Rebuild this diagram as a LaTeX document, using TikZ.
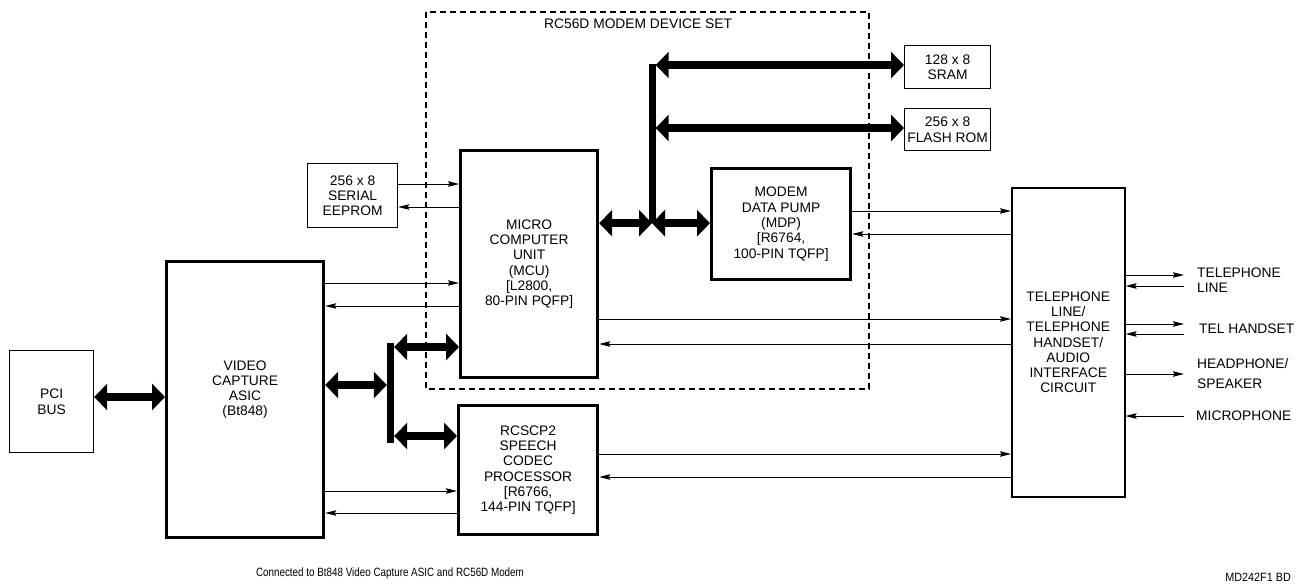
\documentclass[tikz,border=0pt]{standalone}
\usepackage{fontspec}
\setmainfont{Liberation Sans}
\usetikzlibrary{arrows.meta,positioning}

\newcommand{\blockfont}{\fontsize{13.8}{15.3}\selectfont}
\newcommand{\notefont}{\fontsize{12}{14}\selectfont}

\tikzset{
  thickbox/.style={draw, line width=3.2pt, align=center, inner sep=0pt, font=\blockfont},
  thinbox/.style={draw, line width=1.2pt, align=center, inner sep=0pt, font=\blockfont},
  busbar/.style={fill=black, inner sep=0pt, minimum width=7pt},
  bigarrow/.style={line width=8pt, {Triangle[length=13pt,width=26pt]}-{Triangle[length=13pt,width=26pt]}},
  sig/.style={line width=1pt, -{Stealth[length=11pt,width=5.5pt,inset=1.5pt]}},
  lbl/.style={font=\blockfont, align=left, anchor=west, inner sep=0pt},
}

\begin{document}
\begin{tikzpicture}[x=1pt, y=-1pt]
  \useasboundingbox (0,0) rectangle (1307,587);

  % Modem device set outline
  \draw[line width=1.2pt, dash pattern=on 6pt off 4pt] (426,12) rectangle (869,389);
  \node[font=\blockfont, anchor=west, inner sep=0pt] (settitle) at (544,24)
    {RC56D MODEM DEVICE SET};

  % Blocks
  \node[thinbox, anchor=north west, minimum width=84pt, minimum height=102pt]
    (pci) at (9,350) {PCI\\BUS};
  \node[thickbox, anchor=north west, minimum width=157pt, minimum height=276pt,
    label={[font=\blockfont, align=center, yshift=10pt]center:VIDEO\\CAPTURE\\ASIC\\(Bt848)}]
    (video) at (165,260) {};
  \node[thinbox, anchor=north west, minimum width=90pt, minimum height=64pt]
    (eeprom) at (307,163) {256 x 8\\SERIAL\\EEPROM};
  \node[thickbox, anchor=north west, minimum width=137pt, minimum height=227pt]
    (mcu) at (459,149) {MICRO\\COMPUTER\\UNIT\\(MCU)\\{[L2800,}\\80-PIN PQFP]};
  \node[thickbox, anchor=north west, minimum width=139pt, minimum height=129pt]
    (rcscp) at (457,404) {RCSCP2\\SPEECH\\CODEC\\PROCESSOR\\{[R6766,}\\144-PIN TQFP]};
  \node[thickbox, anchor=north west, minimum width=139pt, minimum height=111pt]
    (mdp) at (710,167) {MODEM\\DATA PUMP\\(MDP)\\{[R6764,}\\100-PIN TQFP]};
  \node[thinbox, anchor=north west, minimum width=86pt, minimum height=43pt]
    (sram) at (904,45) {128 x 8\\SRAM};
  \node[thinbox, anchor=north west, minimum width=86pt, minimum height=42pt]
    (flash) at (904,108) {256 x 8\\FLASH ROM};
  \node[thinbox, line width=1.5pt, anchor=north west, minimum width=113pt, minimum height=309pt]
    (tel) at (1011,187) {TELEPHONE\\LINE/\\TELEPHONE\\HANDSET/\\AUDIO\\INTERFACE\\CIRCUIT};

  % Bus bars
  \node[busbar, minimum height=159pt] (mbus) at (652,143.5) {};
  \node[busbar, minimum height=100pt] (vbus) at (390.5,393) {};

  % Wide buses
  \draw[bigarrow] (pci.east |- 0,397) -- (video.west |- 0,397);
  \draw[bigarrow] (video.east |- 0,385) -- (vbus.west |- 0,385);
  \draw[bigarrow] (vbus.east |- 0,347) -- (mcu.west |- 0,347);
  \draw[bigarrow] (vbus.east |- 0,436) -- (rcscp.west |- 0,436);
  \draw[bigarrow] (mbus.east |- 0,65) -- (sram.west |- 0,65);
  \draw[bigarrow] (mbus.east |- 0,128) -- (flash.west |- 0,128);
  \draw[bigarrow] (mcu.east |- mbus.south) -- (mbus.south);
  \draw[bigarrow] (mbus.south) -- (mdp.west |- mbus.south);

  % Signal pairs (out, back)
  \foreach \src/\dst/\yout/\yin in {eeprom/mcu/184/207, video/mcu/283/306,
    video/rcscp/491/513, mcu/tel/319/344, mdp/tel/211/234, rcscp/tel/454/477} {
    \draw[sig] (\src.east |- 0,\yout) -- (\dst.west |- 0,\yout);
    \draw[sig] (\dst.west |- 0,\yin) -- (\src.east |- 0,\yin);
  }

  % External lines
  \coordinate (ext) at (1184,0);
  \foreach \y in {275,324,374}
    \draw[sig] (tel.east |- 0,\y) -- (ext |- 0,\y);
  \foreach \y in {286,334,416}
    \draw[sig] (ext |- 0,\y) -- (tel.east |- 0,\y);
  \node[lbl] (telline) at (1197,280.5) {TELEPHONE\\LINE};
  \node[lbl] (handset) at (1199,329) {TEL HANDSET};
  \node[lbl] (headphone) at (1197,373.5) {HEADPHONE/\\[4pt]SPEAKER};
  \node[lbl] (mic) at (1196,416) {MICROPHONE};

  % Footer
  \node[font=\notefont, xscale=0.82, inner sep=0pt] (caption) at (390,573)
    {Connected to Bt848 Video Capture ASIC and RC56D Modem};
  \node[font=\notefont, xscale=0.9, anchor=east, inner sep=0pt] (figid) at (1291,577)
    {MD242F1 BD};
\end{tikzpicture}
\end{document}
